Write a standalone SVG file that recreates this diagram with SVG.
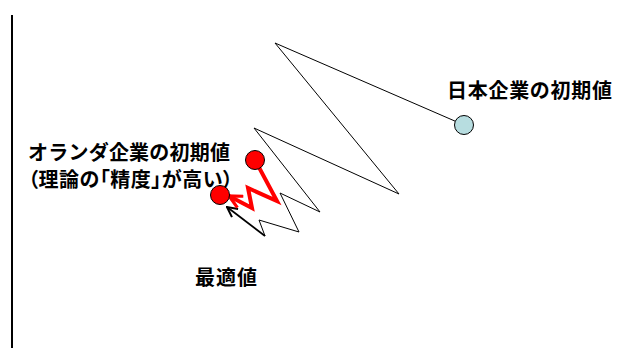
<svg xmlns="http://www.w3.org/2000/svg" width="617" height="351" viewBox="0 0 617 351">
<defs>
<style>
.lbl{font-family:"Noto Sans CJK JP","Noto Sans CJK SC",sans-serif;font-weight:bold;font-size:20px;fill:#000;}
.palt{font-feature-settings:"palt";}
.thin{fill:none;stroke:#000;stroke-width:1;stroke-linejoin:miter;}
</style>
<marker id="ab" viewBox="0 0 10 10" refX="9" refY="5" markerWidth="7" markerHeight="7" orient="auto" markerUnits="strokeWidth">
<path d="M1,1 L9,5 L1,9" fill="none" stroke="#000" stroke-width="1.6"/>
</marker>
<marker id="ar" viewBox="0 0 10 10" refX="9" refY="5" markerWidth="4" markerHeight="4" orient="auto" markerUnits="strokeWidth">
<path d="M1,1 L9,5 L1,9" fill="none" stroke="#f00" stroke-width="2"/>
</marker>
</defs>
<rect width="617" height="351" fill="#fff"/>
<line x1="12" y1="15" x2="12" y2="348" stroke="#000" stroke-width="2"/>
<g id="connectors">
<polyline class="thin" points="464,125 275,43 399,194 254,128 320,212 280,193 299,232 259,220 265,236"/>
<line x1="265" y1="236" x2="227" y2="207" stroke="#000" stroke-width="1.8" marker-end="url(#ab)"/>
<polyline points="255,160 277,201 248,188 252,208 229,196" fill="none" stroke="#f00" stroke-width="4" stroke-linejoin="miter" marker-end="url(#ar)"/>
</g>
<g id="japan">
<circle cx="464" cy="125" r="9.5" fill="#b7dde0" stroke="#000" stroke-width="1"/>
<text class="lbl" x="447" y="98" textLength="165" lengthAdjust="spacing">日本企業の初期値</text>
</g>
<g id="netherlands">
<circle cx="255" cy="160" r="9.5" fill="#f00" stroke="#000" stroke-width="1"/>
<text class="lbl" x="28" y="160" textLength="202" lengthAdjust="spacing">オランダ企業の初期値</text>
<text class="lbl palt" x="28" y="187" textLength="205" lengthAdjust="spacing">（理論の「精度」が高い）</text>
</g>
<g id="optimum">
<circle cx="220" cy="195" r="9.5" fill="#f00" stroke="#000" stroke-width="1"/>
<text class="lbl" x="195" y="285" textLength="62" lengthAdjust="spacing">最適値</text>
</g>
</svg>
